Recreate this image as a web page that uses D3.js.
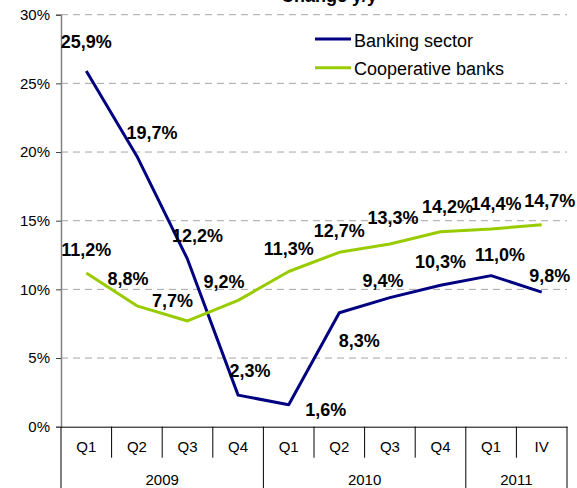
<!DOCTYPE html>
<html>
<head>
<meta charset="utf-8">
<script src="https://cdn.jsdelivr.net/npm/d3@7"></script>
<style>
  body { margin: 0; background: #fff; }
  svg { display: block; font-family: "Liberation Sans", Arial, sans-serif; }
</style>
</head>
<body>
<svg id="chart" width="577" height="488"></svg>
<script>
// data
const quarters = ["Q1", "Q2", "Q3", "Q4", "Q1", "Q2", "Q3", "Q4", "Q1", "IV"];
const years = ["2009", "2010", "2011"];
const yearSpans = [4, 4, 2];
const bankingSector = [25.9, 19.7, 12.2, 2.3, 1.6, 8.3, 9.4, 10.3, 11.0, 9.8];
const cooperativeBanks = [11.2, 8.8, 7.7, 9.2, 11.3, 12.7, 13.3, 14.2, 14.4, 14.7];
const yTicks = [0, 5, 10, 15, 20, 25, 30];
const title = "Change y/y";

// label placement (offset of label centre from its point)
const bankingOffsets = [[0, -30], [15, -24], [10, -24], [12, -25], [37, 5], [20, 28], [-7, -17], [0, -24], [9, -21], [8, -17]];
const coopOffsets = [[0, -23], [-9, -27], [-15, -20], [-14, -19], [0, -23], [0, -22], [3, -27], [7, -25], [5, -25], [8, -24]];

const series = [
  { name: "Banking sector", values: bankingSector, color: "#000080", offsets: bankingOffsets },
  { name: "Cooperative banks", values: cooperativeBanks, color: "#99CC00", offsets: coopOffsets }
];

const plotLeft = 61, plotRight = 567, plotTop = 14.7, plotBase = 426.7;
const keys = quarters.map((q, i) => i);

const x = d3.scaleBand().domain(keys).range([plotLeft, plotRight]).padding(0);
const y = d3.scaleLinear().domain([0, 30]).range([plotBase, plotTop]);
const cx = i => x(i) + x.bandwidth() / 2;

const svg = d3.select("#chart");
const fmt = v => d3.format(".1f")(v).replace(".", ",") + "%";

// grid
svg.append("g")
  .selectAll("line")
  .data(yTicks.filter(t => t > 0))
  .join("line")
  .attr("x1", plotLeft).attr("x2", plotRight)
  .attr("y1", d => y(d)).attr("y2", d => y(d))
  .attr("stroke", "#a6a6a6")
  .attr("stroke-width", 1)
  .attr("stroke-dasharray", "7,5");

// y axis
const yAxis = d3.axisLeft(y)
  .tickValues(yTicks)
  .tickFormat(d => d + "%")
  .tickSize(5)
  .tickPadding(6);

const yg = svg.append("g")
  .attr("transform", `translate(${plotLeft},0)`)
  .call(yAxis);
yg.select(".domain").attr("stroke", "#808080").attr("stroke-width", 1.5);
yg.selectAll(".tick line").attr("stroke", "#404040");
yg.selectAll(".tick text")
  .attr("fill", "#000")
  .style("font-size", "15px")
  .style("font-family", "Liberation Sans, Arial, sans-serif");

// category axis
const xAxis = d3.axisBottom(x)
  .tickFormat(i => quarters[i])
  .tickSize(0)
  .tickPadding(15);

const xg = svg.append("g")
  .attr("transform", `translate(0,${plotBase})`)
  .call(xAxis);
xg.select(".domain").attr("stroke", "#000").attr("stroke-width", 1);
xg.selectAll(".tick text")
  .attr("fill", "#000")
  .style("font-size", "15px")
  .style("font-family", "Liberation Sans, Arial, sans-serif");

// dividers between quarters and years
const yearStarts = [];
yearSpans.reduce((acc, n) => { yearStarts.push(acc); return acc + n; }, 0);

svg.append("g")
  .selectAll("line")
  .data(keys.slice(1))
  .join("line")
  .attr("x1", d => x(d)).attr("x2", d => x(d))
  .attr("y1", plotBase).attr("y2", d => yearStarts.includes(d) ? 488 : plotBase + 31)
  .attr("stroke", "#000")
  .attr("stroke-width", 1);

svg.append("g")
  .selectAll("line")
  .data([plotLeft, plotRight])
  .join("line")
  .attr("x1", d => d).attr("x2", d => d)
  .attr("y1", plotBase).attr("y2", 488)
  .attr("stroke", "#000")
  .attr("stroke-width", 1);

svg.append("g")
  .selectAll("text")
  .data(years)
  .join("text")
  .attr("x", (d, i) => {
    const s = yearStarts[i], e = s + yearSpans[i] - 1;
    return (x(s) + x(e) + x.bandwidth()) / 2;
  })
  .attr("y", 485)
  .attr("text-anchor", "middle")
  .style("font-size", "15px")
  .text(d => d);

// lines
const line = d3.line()
  .x((d, i) => cx(i))
  .y(d => y(d));

svg.append("g")
  .selectAll("path")
  .data(series)
  .join("path")
  .attr("d", d => line(d.values))
  .attr("fill", "none")
  .attr("stroke", d => d.color)
  .attr("stroke-width", 3)
  .attr("stroke-linejoin", "round");

// value labels
series.forEach(s => {
  svg.append("g")
    .selectAll("text")
    .data(s.values)
    .join("text")
    .attr("x", (d, i) => cx(i) + s.offsets[i][0])
    .attr("y", (d, i) => y(d) + s.offsets[i][1] + 6.5)
    .attr("text-anchor", "middle")
    .style("font-size", "18px")
    .style("font-weight", "bold")
    .text(d => fmt(d));
});

// legend
const legend = svg.append("g")
  .selectAll("g")
  .data(series)
  .join("g")
  .attr("transform", (d, i) => `translate(315,${39 + i * 28.7})`);
legend.append("line")
  .attr("x1", 0).attr("x2", 36)
  .attr("stroke", d => d.color)
  .attr("stroke-width", 3);
legend.append("text")
  .attr("x", 39)
  .attr("y", 7.5)
  .style("font-size", "18px")
  .text(d => d.name);

// title (clipped at the top edge, like the source)
svg.append("text")
  .attr("x", 329)
  .attr("y", 1.5)
  .attr("text-anchor", "middle")
  .style("font-size", "18px")
  .style("font-weight", "bold")
  .text(title);
</script>
</body>
</html>
